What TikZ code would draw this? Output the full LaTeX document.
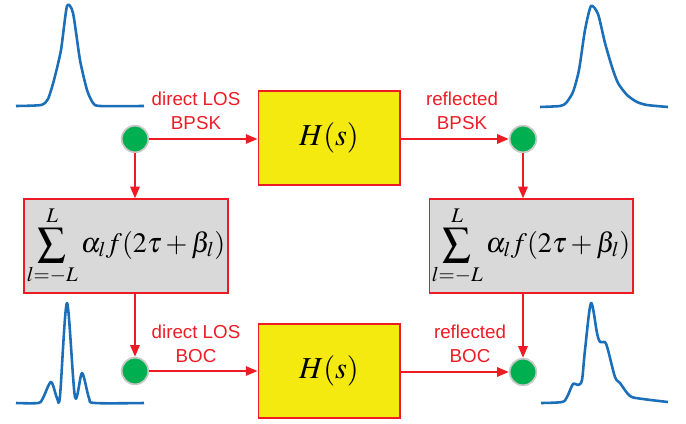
\documentclass[tikz,border=0pt]{standalone}
\usepackage{mathptmx}
\usepackage[no-math]{fontspec}
\setmainfont{Liberation Sans}
\usetikzlibrary{arrows.meta,positioning,calc}
\usepackage{xcolor}
\definecolor{wire}{HTML}{ED1C24}
\definecolor{hfill}{HTML}{F4EA10}
\definecolor{sumfill}{HTML}{D9D9D9}
\definecolor{dotgreen}{HTML}{00B050}
\definecolor{ring}{HTML}{C8C8C8}
\definecolor{pulse}{HTML}{1A6FB8}

\begin{document}
\begin{tikzpicture}[x=0.03cm,y=-0.03cm,
  hbox/.style={draw=wire,line width=1.7pt,fill=hfill,minimum width=4.23cm,minimum height=2.8cm,font=\fontsize{26}{30}\selectfont},
  sumbox/.style={draw=wire,line width=1.7pt,fill=sumfill,minimum width=6.09cm,minimum height=2.8cm,inner sep=0pt,font=\fontsize{24}{28}\selectfont},
  dot/.style={circle,fill=dotgreen,draw=ring,line width=1.5pt,minimum size=0.8cm,inner sep=0pt},
  link/.style={draw=wire,line width=1.7pt,-{Triangle[length=10pt,width=8pt]}},
  lbl/.style={text=wire,align=center,font=\fontsize{16}{20}\selectfont,inner sep=0pt},
  sig/.style={draw=pulse,line width=2.2pt,line join=round}]
  \useasboundingbox (0,0) rectangle (686,424);

  % Blocks
  \node[hbox] (htop) at (329,138) {$H(s)$};
  \node[hbox] (hbot) at (329,371) {$H(s)$};
  \node[sumbox] (sumL) at (126,246) {$\displaystyle\sum_{l=-L}^{L}\alpha_l f(2\tau+\beta_l)$};
  \node[sumbox] (sumR) at (531,246) {$\displaystyle\sum_{l=-L}^{L}\alpha_l f(2\tau+\beta_l)$};

  % Signal points
  \node[dot] (losA) at (135,139) {};
  \node[dot] (refA) at (523,139) {};
  \node[dot] (losB) at (135,371) {};
  \node[dot] (refB) at (523,372) {};

  % Connectors
  \draw[link] (losA.east) -- (losA.east -| htop.west);
  \draw[link] (htop.east |- refA) -- (refA.west);
  \draw[link] (losA.south) -- (losA |- sumL.north);
  \draw[link] (refA.south) -- (refA |- sumR.north);
  \draw[link] (sumL.south -| losB) -- (losB.north);
  \draw[link] (sumR.south -| refB) -- (refB.north);
  \draw[link] (losB.east) -- (losB.east -| hbot.west);
  \draw[link] (hbot.east |- refB) -- (refB.west);

  % Labels
  \node[lbl] (txtA) at (196,111) {direct LOS\\BPSK};
  \node[lbl] (txtB) at (462,111) {reflected\\BPSK};
  \node[lbl] (txtC) at (196,344) {direct LOS\\BOC};
  \node[lbl] (txtD) at (470,344) {reflected\\BOC};

  % Pulse shapes
  \draw[sig] plot[smooth,tension=0.4] coordinates {(16,106) (41,105) (48,99) (54,80) (61,50) (67,6) (73,13) (80,60) (87,90) (93,103) (100,106) (144,106)};
  \draw[sig] plot[smooth,tension=0.4] coordinates {(540,107) (560,106) (566,103) (573,92) (579,70) (585,30) (591,6) (598,14) (605,43) (612,67) (618,83) (627,95) (637,102) (647,105) (668,107)};
  \draw[sig] plot[smooth,tension=0.5] coordinates {(16,403) (38,403) (43,398) (51,382) (57,398) (60,396) (67,303) (75,397) (82,373) (89,398) (95,403) (144,403)};
  \draw[sig] plot[smooth,tension=0.5] coordinates {(541,403) (562,402) (567,397) (573,384) (578,385) (582,380) (585,350) (591,303) (597,333) (600,342) (605,342) (608,350) (615,377) (620,383) (630,396) (643,399) (668,402)};
\end{tikzpicture}
\end{document}
